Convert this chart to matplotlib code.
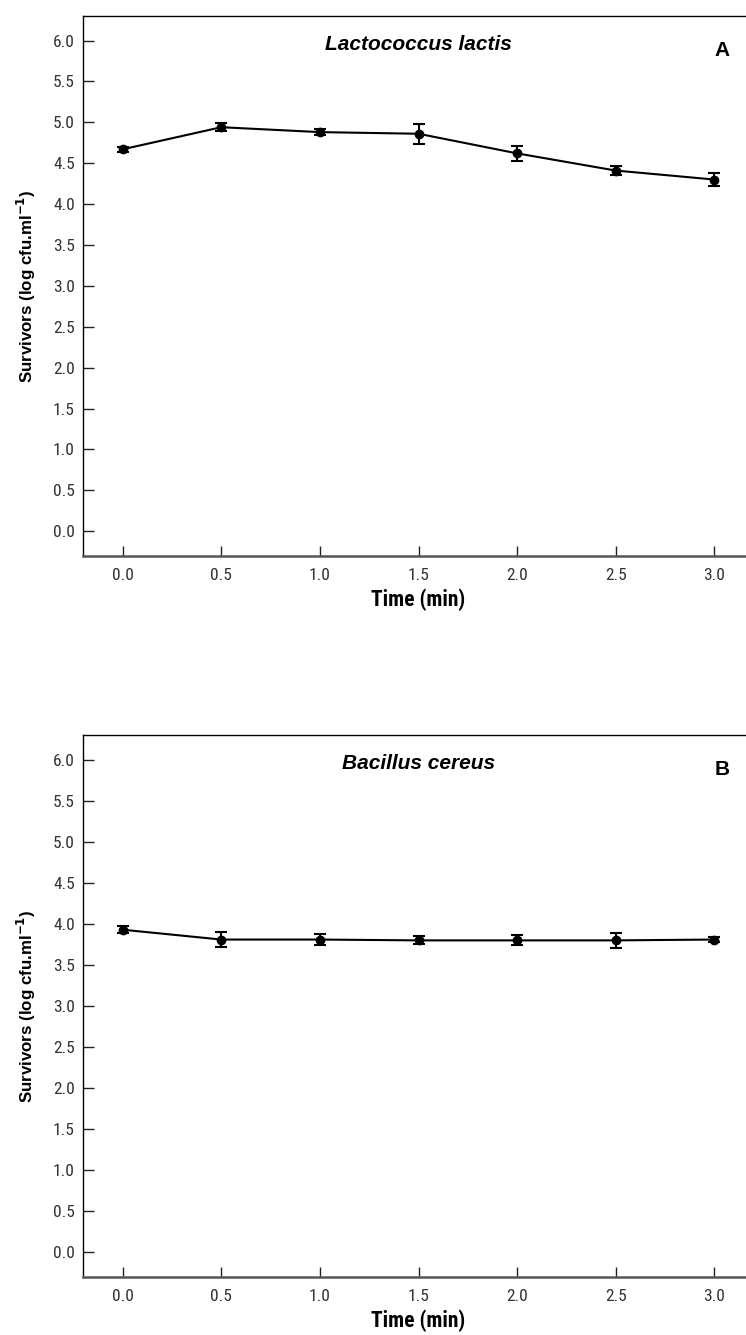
import os
import matplotlib
matplotlib.use("Agg")
import matplotlib.pyplot as plt
from matplotlib import font_manager

time = [0.0, 0.5, 1.0, 1.5, 2.0, 2.5, 3.0]
lactis_mean = [4.67, 4.94, 4.88, 4.86, 4.62, 4.41, 4.30]
lactis_err = [0.03, 0.05, 0.037, 0.12, 0.094, 0.06, 0.08]
cereus_mean = [3.93, 3.81, 3.81, 3.80, 3.80, 3.80, 3.81]
cereus_err = [0.04, 0.09, 0.07, 0.05, 0.06, 0.09, 0.03]

xticks = [0.0, 0.5, 1.0, 1.5, 2.0, 2.5, 3.0]
yticks = [0.0, 0.5, 1.0, 1.5, 2.0, 2.5, 3.0, 3.5, 4.0, 4.5, 5.0, 5.5, 6.0]
titles = ["Lactococcus lactis", "Bacillus cereus"]
letters = ["A", "B"]

files = {os.path.basename(f.fname): f.fname for f in font_manager.fontManager.ttflist}


def pick(cands):
    for c in cands:
        if c in files:
            return files[c]
    return None


narrow_reg = pick(["LiberationSansNarrow-Regular.ttf", "RobotoCondensed-Regular.ttf",
                   "DejaVuSansCondensed.ttf"])
narrow_bold = pick(["LiberationSansNarrow-Bold.ttf", "RobotoCondensed-Bold.ttf",
                    "DejaVuSansCondensed-Bold.ttf"])


def fp(path, size, fallback_weight="normal"):
    if path:
        return font_manager.FontProperties(fname=path, size=size)
    return font_manager.FontProperties(family="Liberation Sans", weight=fallback_weight, size=size)


tick_fp = fp(narrow_reg, 12.5)
xlab_fp = fp(narrow_bold, 15.5, "bold")
sans = "Liberation Sans"

W, H = 746, 1335
fig = plt.figure(figsize=(W / 100, H / 100), dpi=100)

left = 83.3 / W
width = (753.7 - 83.3) / W
axes_px = [(16.0, 555.7), (735.3, 1276.7)]

series = [(lactis_mean, lactis_err), (cereus_mean, cereus_err)]

for i, (top, bot) in enumerate(axes_px):
    ax = fig.add_axes([left, (H - bot) / H, width, (bot - top) / H])
    mean, err = series[i]
    ax.errorbar(time, mean, yerr=err, color="black", lw=1.5, marker="o",
                markersize=6, capsize=4.5, capthick=1.5, elinewidth=1.5)
    ax.set_xlim(-0.2, 3.2)
    ax.set_ylim(-0.3, 6.3)
    ax.set_xticks(xticks)
    ax.set_yticks(yticks)
    ax.set_xticklabels([f"{v:.1f}" for v in xticks], fontproperties=tick_fp, color="#333333")
    ax.set_yticklabels([f"{v:.1f}" for v in yticks], fontproperties=tick_fp, color="#333333")
    ax.tick_params(axis="x", direction="in", length=7, width=1.0, pad=9, color="#222222")
    ax.tick_params(axis="y", direction="in", length=8, width=1.0, pad=6, color="#222222")
    ax.spines["left"].set_linewidth(1.0)
    ax.spines["top"].set_linewidth(1.0)
    ax.spines["right"].set_linewidth(1.0)
    ax.spines["bottom"].set_linewidth(1.8)
    ax.spines["bottom"].set_color("#555555")
    ax.set_xlabel("Time (min)", fontproperties=xlab_fp, labelpad=4)
    ax.set_ylabel("Survivors (log cfu.ml$^{\\mathbf{-1}}$)", family=sans, fontweight="bold",
                  fontsize=12.2, labelpad=11)
    ax.text(0.5, 0.948, titles[i], transform=ax.transAxes, ha="center", va="center",
            family=sans, fontstyle="italic", fontweight="bold", fontsize=15)
    ax.text(0.953, 0.936, letters[i], transform=ax.transAxes, ha="center", va="center",
            family=sans, fontweight="bold", fontsize=15)

fig.savefig("out.png", dpi=100)
